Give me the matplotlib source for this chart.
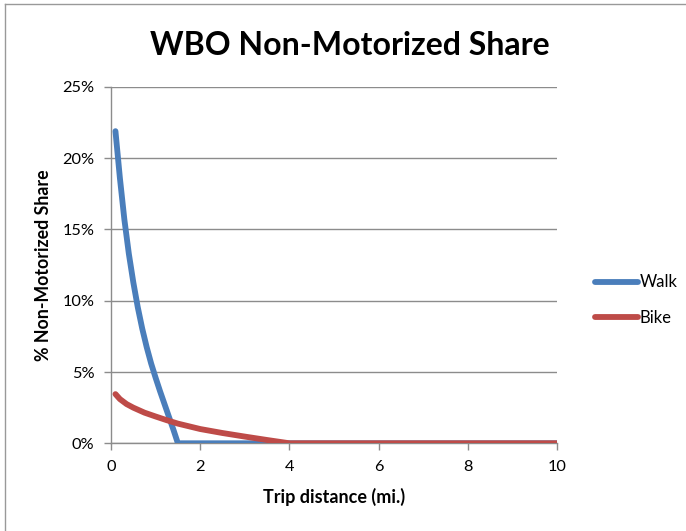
import matplotlib
matplotlib.use("Agg")
import matplotlib.pyplot as plt
from matplotlib.lines import Line2D
from matplotlib.ticker import FuncFormatter

plt.rcParams['font.family'] = ['Lato', 'DejaVu Sans']

# Trip distance (miles) and non-motorized share (%)
walk_miles = [0.1, 0.2, 0.3, 0.4, 0.5, 0.6, 0.7, 0.8, 0.9, 1.0, 1.1, 1.2, 1.3, 1.4, 1.5, 10.0]
walk_share = [21.9, 18.6, 15.7, 13.3, 11.3, 9.55, 8.05, 6.75, 5.6, 4.6, 3.65, 2.75, 1.85, 0.95, 0.0, 0.0]

bike_miles = [0.1, 0.2, 0.35, 0.5, 0.75, 1.0, 1.25, 1.5, 2.0, 2.5, 3.0, 3.5, 4.0, 10.0]
bike_share = [3.45, 3.1, 2.75, 2.5, 2.15, 1.88, 1.62, 1.38, 1.0, 0.72, 0.47, 0.23, 0.0, 0.0]

x_ticks = [0, 2, 4, 6, 8, 10]
y_ticks = [0, 5, 10, 15, 20, 25]

WALK_COLOR = '#4A7EBB'
BIKE_COLOR = '#BE4B48'
GRID_COLOR = '#8C8C8C'

fig = plt.figure(figsize=(6.86, 5.31), dpi=100)
ax = fig.add_axes([0.1618, 0.1652, 0.6501, 0.671])

ax.plot(walk_miles, walk_share, color=WALK_COLOR, lw=4.2, solid_capstyle='round',
        solid_joinstyle='round', label='Walk', zorder=3)
ax.plot(bike_miles, bike_share, color=BIKE_COLOR, lw=4.2, solid_capstyle='round',
        solid_joinstyle='round', label='Bike', zorder=4)

ax.set_xlim(0, 10)
ax.set_ylim(0, 25)
ax.set_xticks(x_ticks)
ax.set_yticks(y_ticks)
ax.yaxis.set_major_formatter(FuncFormatter(lambda v, p: f'{v:.0f}%'))

ax.grid(axis='y', color=GRID_COLOR, lw=1)
ax.set_axisbelow(True)
for side in ('top', 'right'):
    ax.spines[side].set_visible(False)
for side in ('left', 'bottom'):
    ax.spines[side].set_color(GRID_COLOR)
    ax.spines[side].set_linewidth(1)
ax.tick_params(axis='both', direction='out', length=5, width=1, color=GRID_COLOR,
               labelsize=11.8, labelcolor='black')
ax.tick_params(axis='y', pad=7)
ax.tick_params(axis='x', pad=7)

ax.set_xlabel('Trip distance (mi.)', fontsize=13, fontweight='bold', labelpad=10)
ax.set_ylabel('% Non-Motorized Share', fontsize=12.8, fontweight='bold', labelpad=7)

fig.text(0.51, 0.915, 'WBO Non-Motorized Share', ha='center', va='center',
         fontsize=23, fontweight='bold')

leg = ax.legend(loc='center left', bbox_to_anchor=(1.0516, 0.402), frameon=False,
                fontsize=12, handlelength=2.6, handletextpad=0.1, labelspacing=1.15)

# Outer chart frame
fig.add_artist(Line2D([5 / 686, 1.0], [1 - 4 / 531, 1 - 4 / 531], color='#999999', lw=1,
                      transform=fig.transFigure))
fig.add_artist(Line2D([5 / 686, 5 / 686], [0.0, 1 - 4 / 531], color='#999999', lw=1,
                      transform=fig.transFigure))

fig.savefig('out.png', dpi=100)
